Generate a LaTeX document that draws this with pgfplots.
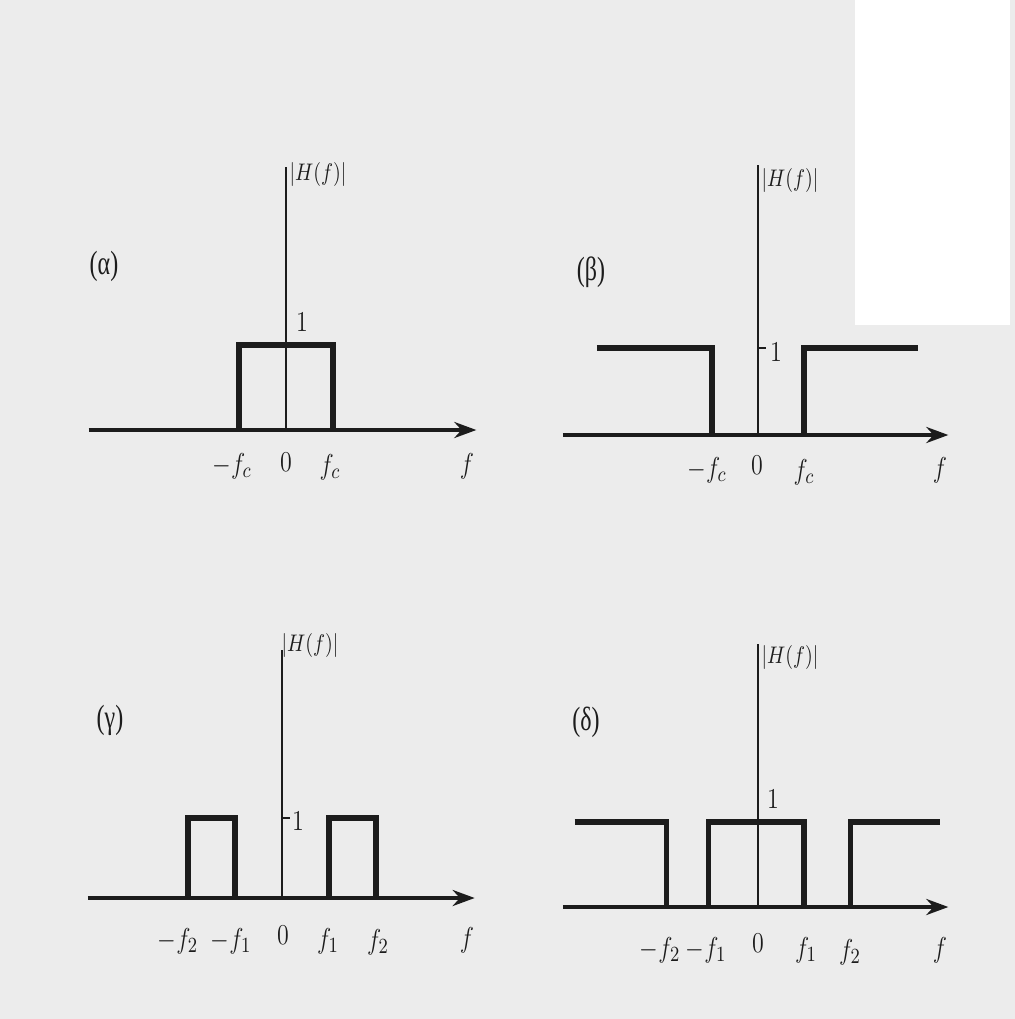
\documentclass[border=0pt]{standalone}
\usepackage{fontspec}
\setmainfont{Liberation Serif}
\newfontfamily\tagfont{Liberation Serif}
\usepackage{graphicx}
\usepackage{pgfplots}
\pgfplotsset{compat=1.18}
\usetikzlibrary{arrows.meta}

\definecolor{paper}{RGB}{236,236,236}
\definecolor{ink}{RGB}{28,28,28}

% common look of the four magnitude-response panels
\pgfplotsset{
  filterpanel/.style={
    anchor=origin,
    x=23.5pt,
    axis lines=middle,
    enlargelimits=false,
    ymin=0, ymax=3.1,
    xtick=\empty, ytick=\empty,
    clip=false,
    x axis line style={line width=2.2pt, ink, -{Stealth[length=11pt,width=8pt]}},
    y axis line style={line width=1pt, ink, -},
  },
  response/.style={line width=2.6pt, ink, line join=miter, line cap=butt, mark=none},
}

% label helpers (sizes in pt, vertically stretched like the printed figure)
\newcommand\tl[1]{{\fontsize{12.5}{14}\selectfont\scalebox{1}[1.2]{$#1$}}}
\newcommand\hl{{\fontsize{10}{12}\selectfont\scalebox{1}[1.2]{$|H(f)|$}}}
\newcommand\pl[1]{{\tagfont\fontsize{12}{14}\selectfont\scalebox{1}[1.4]{#1}}}

\begin{document}
\begin{tikzpicture}
  % page in pixel-like units, origin at the top-left corner
  \begin{scope}[x=0.5pt, y=-0.5pt]
    \useasboundingbox[fill=paper] (0,0) rectangle (1015,1019);
    \fill[white] (855,0) rectangle (1010,325);
  \end{scope}

  % (alpha) low-pass
  \begin{axis}[filterpanel, at={(143pt,-215pt)}, y=42.5pt, xmin=-4.2, xmax=4.05]
    \addplot[response] coordinates {(-1,0) (-1,1) (1,1) (1,0)};
  \end{axis}

  % (beta) high-pass
  \begin{axis}[filterpanel, at={(379pt,-217.5pt)}, y=43.5pt, xmin=-4.15, xmax=4.05]
    \addplot[response] coordinates {(-3.43,1) (-0.98,1) (-0.98,0)};
    \addplot[response] coordinates {(0.98,0) (0.98,1) (3.4,1)};
    \draw[ink, line width=1pt] (axis cs:0,1) -- ([xshift=4pt]axis cs:0,1);
  \end{axis}

  % (gamma) band-pass
  \begin{axis}[filterpanel, at={(141pt,-449pt)}, y=40pt, xmin=-4.13, xmax=4.1]
    \addplot[response] coordinates {(-2,0) (-2,1) (-1,1) (-1,0)};
    \addplot[response] coordinates {(1,0) (1,1) (2,1) (2,0)};
    \draw[ink, line width=1pt] (axis cs:0,1) -- ([xshift=4pt]axis cs:0,1);
  \end{axis}

  % (delta) band-stop
  \begin{axis}[filterpanel, at={(379pt,-453.5pt)}, y=42.5pt, xmin=-4.15, xmax=4.05]
    \addplot[response] coordinates {(-3.9,1) (-1.94,1) (-1.94,0)};
    \addplot[response] coordinates {(-1.06,0) (-1.06,1) (0.98,1) (0.98,0)};
    \addplot[response] coordinates {(1.96,0) (1.96,1) (3.87,1)};
  \end{axis}

  \begin{scope}[x=0.5pt, y=-0.5pt, text=ink, inner sep=0pt]
    % panel tags
    \node at (104,266) {\pl{(α)}};
    \node at (591,272) {\pl{(β)}};
    \node at (110,720) {\pl{(γ)}};
    \node at (586,722) {\pl{(δ)}};
    % vertical-axis titles
    \node at (318,174) {\hl};
    \node at (790,180) {\hl};
    \node at (310,645) {\hl};
    \node at (790,657) {\hl};
    % level 1
    \node at (302,322) {\tl{1}};
    \node at (776,352) {\tl{1}};
    \node at (298,821) {\tl{1}};
    \node at (773,799) {\tl{1}};
    % (alpha) frequency labels
    \node at (232,466) {\tl{-f_c}};
    \node at (286,462) {\tl{0}};
    \node at (330,467) {\tl{f_c}};
    \node at (467,466) {\tl{f}};
    % (beta)
    \node at (707,470) {\tl{-f_c}};
    \node at (757,465) {\tl{0}};
    \node at (804,472) {\tl{f_c}};
    \node at (940,470) {\tl{f}};
    % (gamma)
    \node at (178,941) {\tl{-f_2}};
    \node at (231,941) {\tl{-f_1}};
    \node at (283,935) {\tl{0}};
    \node at (328,941) {\tl{f_1}};
    \node at (378,942) {\tl{f_2}};
    \node at (467,940) {\tl{f}};
    % (delta)
    \node at (660,950) {\tl{-f_2}};
    \node at (706,950) {\tl{-f_1}};
    \node at (758,943) {\tl{0}};
    \node at (806,950) {\tl{f_1}};
    \node at (850,952) {\tl{f_2}};
    \node at (940,950) {\tl{f}};
  \end{scope}
\end{tikzpicture}
\end{document}
